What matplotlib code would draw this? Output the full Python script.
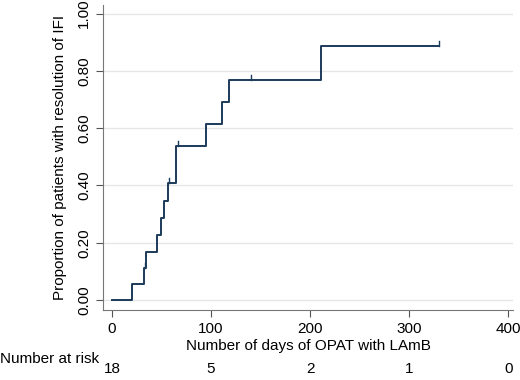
import matplotlib
matplotlib.use("Agg")
import matplotlib.pyplot as plt

plt.rcParams["font.family"] = ["Liberation Sans", "DejaVu Sans"]

# Kaplan-Meier style step data (time in days, cumulative proportion resolved)
days = [0, 20, 32, 34, 46, 50, 53, 57, 65, 95, 111, 118, 211, 330]
prop = [0, 0.056, 0.111, 0.169, 0.227, 0.286, 0.346, 0.407, 0.538, 0.615, 0.692, 0.769, 0.885, 0.885]
cens_days = [33, 58, 67, 140, 330]
cens_prop = [0.111, 0.407, 0.538, 0.769, 0.885]
risk_times = [0, 100, 200, 300, 400]
risk_counts = [18, 5, 2, 1, 0]
yticks = [0.0, 0.2, 0.4, 0.6, 0.8, 1.0]

fs = 11
fig = plt.figure(figsize=(5.2, 3.8), dpi=100)
ax = fig.add_axes([0.198, 0.184, 0.789, 0.803])
col = "#1c3b5a"
ax.step(days, prop, where="post", color=col, lw=1.4)
for d, p in zip(cens_days, cens_prop):
    ax.plot([d, d], [p, p + 0.018], color=col, lw=1.0)

ax.set_xlim(-9, 405)
ax.set_ylim(-0.035, 1.03)
ax.set_xticks(risk_times)
ax.set_yticks(yticks)
ax.set_yticklabels([f"{v:.2f}" for v in yticks], rotation=90, va="center")
for v in yticks:
    ax.axhline(v, color="#e6e6e6", lw=1.0, zorder=0)
for s in ["top", "right"]:
    ax.spines[s].set_visible(False)
for s in ["left", "bottom"]:
    ax.spines[s].set_color("#777777")
ax.tick_params(colors="#555555", labelcolor="black", labelsize=fs, length=5)
ax.set_xlabel("Number of days of OPAT with LAmB", fontsize=fs, labelpad=2)
ax.set_ylabel("Proportion of patients with resolution of IFI", fontsize=fs, labelpad=7)

fig.text(0.0, 1 - 359 / 380, "Number at risk", fontsize=fs, va="center", ha="left")
for t, n in zip(risk_times, risk_counts):
    xf = fig.transFigure.inverted().transform(ax.transData.transform((t, 0)))[0]
    fig.text(xf, 1 - 369 / 380, str(n), fontsize=fs, va="center", ha="center")

fig.savefig("out.png", dpi=100)
